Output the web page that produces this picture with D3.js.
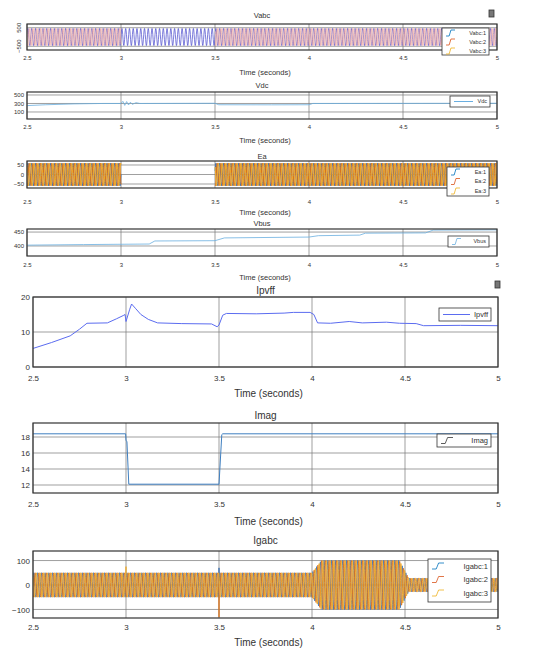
<!DOCTYPE html>
<html lang="en">
<head>
<meta charset="UTF-8">
<title>Scope traces</title>
<script src="https://d3js.org/d3.v7.min.js"></script>
<style>
  body { margin: 0; background: #fff; }
  text { font-family: "Liberation Sans", Arial, sans-serif; fill: #333; }
  .grid line { stroke: #777; stroke-width: 0.7; }
  .frame { fill: none; stroke: #333; stroke-width: 1.2; }
  .legend rect { fill: #fff; stroke: #333; stroke-width: 0.8; }
</style>
</head>
<body>
<svg id="chart" width="556" height="656"></svg>
<script>
// shared time axis
const timeTicks = [2.5, 3, 3.5, 4, 4.5, 5];
const timeLabels = ['2.5', '3', '3.5', '4', '4.5', '5'];
const gridFreq = 50;                 // Hz of the ac traces
const phaseDeg = [0, -120, 120];     // phase shift of each ac channel

// Vabc peak envelope [t, peak] per channel (null = not drawn)
const vabcEnv1 = [[2.5, 460], [5, 460]];
const vabcEnv23 = [[2.5, 460], [3.0, 460], [3.0, null], [3.5, null], [3.5, 460], [5, 460]];

// Vdc [t, V]
const vdcData = [[2.5, 250], [2.6, 270], [2.75, 290], [2.9, 300], [3.0, 300], [3.01, 350], [3.02, 255],
  [3.03, 345], [3.04, 265], [3.05, 330], [3.06, 280], [3.08, 318], [3.1, 300], [3.5, 305],
  [3.52, 270], [3.8, 268], [4.0, 270], [4.02, 300], [5, 305]];

// Ea peak envelope [t, peak] (null = no output)
const eaEnv = [[2.5, 60], [3.0, 60], [3.0, null], [3.5, null], [3.5, 60], [5, 60]];

// Vbus [t, V]
const vbusData = [[2.5, 403], [2.8, 405], [3.15, 407], [3.18, 418], [3.5, 419], [3.55, 429],
  [4.0, 432], [4.05, 437], [4.27, 439], [4.3, 446], [4.62, 447], [4.66, 457], [5, 458]];

// Ipvff [t, A]
const ipvffData = [[2.5, 5.3], [2.6, 7.0], [2.7, 8.9], [2.75, 10.8], [2.79, 12.5], [2.9, 12.6],
  [2.95, 13.8], [2.985, 14.7], [2.995, 15.0], [3.0, 13.0], [3.02, 16.5], [3.03, 18.0], [3.05, 16.8],
  [3.08, 15.0], [3.12, 13.6], [3.17, 12.6], [3.3, 12.4], [3.46, 12.3], [3.49, 11.5], [3.5, 12.0],
  [3.52, 14.8], [3.54, 15.3], [3.7, 15.2], [3.85, 15.4], [3.9, 15.6], [3.99, 15.6], [4.01, 15.0],
  [4.03, 12.6], [4.1, 12.5], [4.2, 13.0], [4.27, 12.6], [4.4, 12.8], [4.47, 12.5], [4.56, 12.4],
  [4.6, 11.8], [4.8, 11.9], [5.0, 11.8]];

// Imag [t, A]
const imagData = [[2.5, 18.4], [2.998, 18.4], [3.0, 17.6], [3.005, 17.4], [3.015, 12.1],
  [3.5, 12.1], [3.515, 18.3], [3.52, 18.4], [5, 18.4]];

// Igabc peak envelope [t, peak] and spikes [channel, t, value]
const igEnv = [[2.5, 50], [4.0, 50], [4.05, 100], [4.47, 100], [4.52, 28], [5, 28]];
const igSpikes = [[2, 3.0, 75], [1, 3.5, -132], [0, 3.5, 70]];

const acColors = ['#0072bd', '#d95319', '#edb120'];
const vabcColors = ['#4646cc', '#e89a9a', '#f3c2b4'];
const eaColors = ['#3b6fb0', '#d9731c', '#eea827'];
const lineBlue = '#5b6cf0';

const svg = d3.select('#chart');

// scope layout
const small = { left: 27, right: 497, tick: 6, title: 7.5, xlab: 7.5, leg: 5.5 };
const big = { left: 33, right: 498, tick: 8, title: 10, xlab: 10, leg: 7.5 };

function panel(cfg) {
  const st = cfg.big ? big : small;
  const x = d3.scaleLinear().domain([2.5, 5]).range([st.left, st.right]);
  const y = d3.scaleLinear().domain(cfg.yDomain).range([cfg.bottom, cfg.top]);
  const g = svg.append('g');

  // grid
  const grid = g.append('g').attr('class', 'grid');
  grid.selectAll('.gx').data(timeTicks).join('line')
    .attr('x1', d => x(d)).attr('x2', d => x(d)).attr('y1', cfg.top).attr('y2', cfg.bottom);
  grid.selectAll('.gy').data(cfg.yTicks).join('line')
    .attr('x1', st.left).attr('x2', st.right).attr('y1', d => y(d)).attr('y2', d => y(d));

  // traces
  const clipId = 'clip' + cfg.title;
  g.append('clipPath').attr('id', clipId).append('rect')
    .attr('x', st.left).attr('y', cfg.top).attr('width', st.right - st.left).attr('height', cfg.bottom - cfg.top);
  const tr = g.append('g').attr('clip-path', `url(#${clipId})`);
  const line = d3.line().defined(d => d[1] !== null).x(d => x(d[0])).y(d => y(d[1]));
  cfg.series.forEach(s => {
    tr.append('path').attr('d', line(s.data)).attr('fill', 'none')
      .attr('stroke', s.color).attr('stroke-width', s.width || 1);
  });

  g.append('rect').attr('class', 'frame')
    .attr('x', st.left).attr('y', cfg.top).attr('width', st.right - st.left).attr('height', cfg.bottom - cfg.top);

  // axes text
  const xAxis = d3.axisBottom(x).tickValues(timeTicks).tickFormat((d, i) => timeLabels[i]).tickSize(0);
  const ax = g.append('g').attr('transform', `translate(0,${cfg.tickY})`).call(xAxis);
  ax.select('.domain').remove();
  ax.selectAll('text').attr('y', 0).attr('dy', '0.35em').style('font-size', st.tick + 'px').attr('fill', '#333');

  const yAxis = d3.axisLeft(y).tickValues(cfg.yTicks).tickFormat(d3.format('d')).tickSize(0);
  const ay = g.append('g').attr('transform', `translate(${st.left - 3},0)`).call(yAxis);
  ay.select('.domain').remove();
  ay.selectAll('text').attr('x', 0).style('font-size', st.tick + 'px').attr('fill', '#333');
  if (cfg.rotY) {
    ay.selectAll('text').attr('text-anchor', 'middle').attr('dy', 0)
      .attr('transform', d => `translate(-3,${y(d)}) rotate(-90)`).attr('y', 0);
    ay.selectAll('.tick').attr('transform', null);
  }

  const cx = (st.left + st.right) / 2;
  g.append('text').attr('x', cx).attr('y', cfg.titleY).attr('dy', '0.35em').attr('text-anchor', 'middle')
    .style('font-size', st.title + 'px').text(cfg.title);
  g.append('text').attr('x', cx + 3).attr('y', cfg.xlabY).attr('dy', '0.35em').attr('text-anchor', 'middle')
    .style('font-size', st.xlab + 'px').text('Time (seconds)');

  // legend
  const L = cfg.legend;
  const lg = g.append('g').attr('class', 'legend');
  lg.append('rect').attr('x', L.x).attr('y', L.y).attr('width', L.w).attr('height', L.h);
  L.items.forEach((it, i) => {
    const yy = L.y + L.first + i * L.step;
    if (L.icon === 'line') {
      lg.append('line').attr('x1', L.x + 4).attr('x2', L.x + L.iconW).attr('y1', yy).attr('y2', yy)
        .attr('stroke', it.color).attr('stroke-width', 1);
    } else {
      const x0 = L.x + 4, s = L.iconW;
      lg.append('path').attr('d', `M${x0},${yy + 3}H${x0 + s * 0.35}L${x0 + s * 0.55},${yy - 3}H${x0 + s}`)
        .attr('fill', 'none').attr('stroke', it.color).attr('stroke-width', 0.8);
    }
    lg.append('text').attr('x', L.x + L.w - 3).attr('y', yy).attr('dy', '0.35em').attr('text-anchor', 'end')
      .style('font-size', st.leg + 'px').text(it.label);
  });
}

// build ac waveforms from envelope data
function envAt(env, t) {
  for (let i = 0; i < env.length - 1; i++) {
    const [t0, a0] = env[i], [t1, a1] = env[i + 1];
    if (t1 > t0 && t >= t0 && t <= t1) {
      if (a0 === null || a1 === null) return null;
      return a0 + (a1 - a0) * (t - t0) / (t1 - t0);
    }
  }
  return null;
}
const sampleT = d3.range(0, 2501).map(i => 2.5 + i * 0.001);
function acWave(env, ch, spikes) {
  const pts = sampleT.map(t => {
    const a = envAt(env, t);
    return [t, a === null ? null : a * Math.sin(2 * Math.PI * gridFreq * t + phaseDeg[ch] * Math.PI / 180)];
  });
  (spikes || []).filter(s => s[0] === ch).forEach(s => {
    const k = Math.round((s[1] - 2.5) / 0.001);
    pts[k] = [s[1], s[2]];
  });
  return pts;
}

panel({
  title: 'Vabc', top: 24, bottom: 50, yDomain: [-700, 700], yTicks: [-500, 500], rotY: true,
  titleY: 15, tickY: 58, xlabY: 72,
  series: [0, 1, 2].map(c => ({ data: acWave(c === 0 ? vabcEnv1 : vabcEnv23, c), color: vabcColors[c], width: 0.7 })),
  legend: { x: 442, y: 28, w: 47, h: 27, first: 5, step: 9, icon: 'step', iconW: 9,
    items: [0, 1, 2].map(c => ({ label: 'Vabc:' + (c + 1), color: acColors[c] })) }
});

panel({
  title: 'Vdc', top: 92, bottom: 119, yDomain: [-65, 570], yTicks: [100, 300, 500],
  titleY: 85, tickY: 127, xlabY: 140,
  series: [{ data: vdcData, color: '#6aaee0', width: 0.8 }],
  legend: { x: 450, y: 96, w: 40, h: 11, first: 5.5, step: 0, icon: 'line', iconW: 23,
    items: [{ label: 'Vdc', color: '#6aaee0' }] }
});

panel({
  title: 'Ea', top: 161, bottom: 188, yDomain: [-71, 71], yTicks: [-50, 0, 50],
  titleY: 156, tickY: 202, xlabY: 212,
  series: [0, 1, 2].map(c => ({ data: acWave(eaEnv, c), color: eaColors[c], width: 1 })),
  legend: { x: 447, y: 167, w: 42, h: 29, first: 5, step: 9.5, icon: 'step', iconW: 9,
    items: [0, 1, 2].map(c => ({ label: 'Ea:' + (c + 1), color: acColors[c] })) }
});

panel({
  title: 'Vbus', top: 229, bottom: 256, yDomain: [364, 461], yTicks: [400, 450],
  titleY: 223, tickY: 265, xlabY: 277,
  series: [{ data: vbusData, color: '#6aaee0', width: 0.8 }],
  legend: { x: 448, y: 236, w: 41, h: 11, first: 5.5, step: 0, icon: 'step', iconW: 9,
    items: [{ label: 'Vbus', color: '#6aaee0' }] }
});

panel({
  big: true, title: 'Ipvff', top: 297, bottom: 367, yDomain: [0, 20], yTicks: [0, 10, 20],
  titleY: 290, tickY: 378, xlabY: 393,
  series: [{ data: ipvffData, color: lineBlue, width: 1 }],
  legend: { x: 439, y: 308, w: 52, h: 13, first: 6.5, step: 0, icon: 'line', iconW: 31,
    items: [{ label: 'Ipvff', color: lineBlue }] }
});

panel({
  big: true, title: 'Imag', top: 423, bottom: 493, yDomain: [11, 19.75], yTicks: [12, 14, 16, 18],
  titleY: 415, tickY: 504, xlabY: 521,
  series: [{ data: imagData, color: '#3f7fc0', width: 1 }],
  legend: { x: 437, y: 434, w: 54, h: 13, first: 6.5, step: 0, icon: 'step', iconW: 12,
    items: [{ label: 'Imag', color: '#333' }] }
});

panel({
  big: true, title: 'Igabc', top: 551, bottom: 618, yDomain: [-135, 139], yTicks: [-100, 0, 100],
  titleY: 540, tickY: 627, xlabY: 642,
  series: [0, 1, 2].map(c => ({ data: acWave(igEnv, c, igSpikes), color: eaColors[c], width: 0.9 })),
  legend: { x: 428, y: 559, w: 63, h: 43, first: 7, step: 13.5, icon: 'step', iconW: 12,
    items: [0, 1, 2].map(c => ({ label: 'Igabc:' + (c + 1), color: acColors[c] })) }
});

// scope window markers
[[489, 10], [495, 281]].forEach(([px, py]) => {
  svg.append('rect').attr('x', px).attr('y', py).attr('width', 5).attr('height', 7)
    .attr('fill', '#777').attr('stroke', '#333').attr('stroke-width', 0.8);
});
</script>
</body>
</html>
